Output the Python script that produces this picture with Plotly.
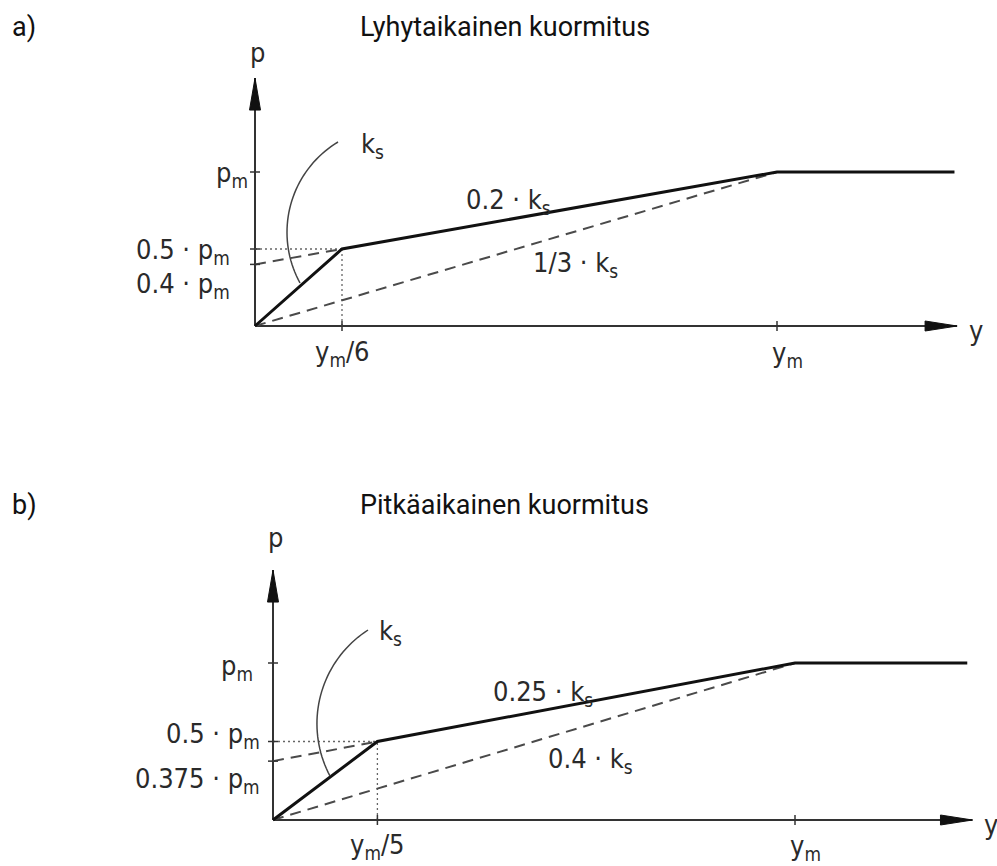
import math
import plotly.graph_objects as go

# ---------------- data (x in units of y_m, y in units of p_m) ----------------
# Panel a) Lyhytaikainen kuormitus
a_curve_x = [0, 1/6, 1, 1.34]
a_curve_y = [0, 0.5, 1, 1]
a_ext_x = [0, 1/6]           # dashed extension of 0.2*k_s branch
a_ext_y = [0.4, 0.5]
a_sec_x = [0, 1]             # dashed secant 1/3*k_s
a_sec_y = [0, 1]
a_yticks = [1, 0.5, 0.4]
a_xticks = [1/6, 1]
a_ytick_text = ["p<sub>m</sub>", "0.5 · p<sub>m</sub>", "0.4 · p<sub>m</sub>"]
a_xtick_text = ["y<sub>m</sub>/6", "y<sub>m</sub>"]
a_slope_text = ["0.2 · k<sub>s</sub>", "1/3 · k<sub>s</sub>"]

# Panel b) Pitkäaikainen kuormitus
b_curve_x = [0, 1/5, 1, 1.33]
b_curve_y = [0, 0.5, 1, 1]
b_ext_x = [0, 1/5]
b_ext_y = [0.375, 0.5]
b_sec_x = [0, 1]
b_sec_y = [0, 1]
b_yticks = [1, 0.5, 0.375]
b_xticks = [1/5, 1]
b_ytick_text = ["p<sub>m</sub>", "0.5 · p<sub>m</sub>", "0.375 · p<sub>m</sub>"]
b_xtick_text = ["y<sub>m</sub>/5", "y<sub>m</sub>"]
b_slope_text = ["0.25 · k<sub>s</sub>", "0.4 · k<sub>s</sub>"]

titles = ["Lyhytaikainen kuormitus", "Pitkäaikainen kuormitus"]
panel_tags = ["a)", "b)"]

# ---------------- styling ----------------
AX = "#333333"
LBL_FONT = dict(family="Liberation Sans Narrow, DejaVu Sans Condensed, Roboto, sans-serif",
                size=27, color="#2a2a2a")
TITLE_FONT = dict(family="Roboto, Noto Sans, sans-serif", size=27, color="#111111")

W, H = 997, 866
fig = go.Figure()
shapes = []
annotations = []


def circle_arc(p1, p2, p3, n=40):
    """Points of the circular arc through three pixel points (p1 -> p2 -> p3)."""
    (x1, y1), (x2, y2), (x3, y3) = p1, p2, p3
    dd = 2 * (x1 * (y2 - y3) + x2 * (y3 - y1) + x3 * (y1 - y2))
    ux = ((x1**2 + y1**2) * (y2 - y3) + (x2**2 + y2**2) * (y3 - y1) + (x3**2 + y3**2) * (y1 - y2)) / dd
    uy = ((x1**2 + y1**2) * (x3 - x2) + (x2**2 + y2**2) * (x1 - x3) + (x3**2 + y3**2) * (x2 - x1)) / dd
    r = math.hypot(x1 - ux, y1 - uy)
    a1 = math.atan2(y1 - uy, x1 - ux)
    a2 = math.atan2(y2 - uy, x2 - ux)
    a3 = math.atan2(y3 - uy, x3 - ux)

    def norm(a):
        return a % (2 * math.pi)
    # choose direction so that a2 lies between a1 and a3
    s13 = norm(a3 - a1)
    s12 = norm(a2 - a1)
    if s12 <= s13:
        sweep = s13
    else:
        sweep = s13 - 2 * math.pi
    return [(ux + r * math.cos(a1 + sweep * i / n), uy + r * math.sin(a1 + sweep * i / n))
            for i in range(n + 1)]


def add_panel(xr, yr, origin, scale, curve_x, curve_y, ext_x, ext_y, sec_x, sec_y,
              yticks, xticks, ytick_text, xtick_text, slope_text,
              x_end, y_end, cfg):
    ox, oy = origin
    sx, sy = scale

    def d(px, py):  # pixel position (for labels / leader) -> data coords of this panel
        return (px - ox) / sx, (oy - py) / sy

    line_kw = dict(xaxis=xr, yaxis=yr, mode="lines", hoverinfo="skip", showlegend=False)
    # axes lines
    fig.add_trace(go.Scatter(x=[0, x_end], y=[0, 0], line=dict(color=AX, width=2), **line_kw))
    fig.add_trace(go.Scatter(x=[0, 0], y=[0, y_end], line=dict(color=AX, width=2), **line_kw))
    # dotted guides at the break point
    bx, by = curve_x[1], curve_y[1]
    dot = dict(color="#666666", width=1.3, dash="2px,3px")
    fig.add_trace(go.Scatter(x=[0, bx], y=[by, by], line=dot, **line_kw))
    fig.add_trace(go.Scatter(x=[bx, bx], y=[0, by], line=dot, **line_kw))
    # dashed lines
    for dx, dy in ((ext_x, ext_y), (sec_x, sec_y)):
        fig.add_trace(go.Scatter(x=dx, y=dy, line=dict(color="#4a4a4a", width=2, dash="11px,7px"),
                                 **line_kw))
    # main curve
    fig.add_trace(go.Scatter(x=curve_x, y=curve_y, line=dict(color="#111111", width=3), **line_kw))

    # ticks
    for v in yticks:
        shapes.append(dict(type="line", xref=xr, yref=yr, xsizemode="pixel", xanchor=0,
                           x0=-5, x1=5, y0=v, y1=v, line=dict(color=AX, width=1.5)))
    for v in xticks:
        shapes.append(dict(type="line", xref=xr, yref=yr, ysizemode="pixel", yanchor=0,
                           y0=-5, y1=5, x0=v, x1=v, line=dict(color=AX, width=1.5)))
    # arrowheads
    shapes.append(dict(type="path", xref=xr, yref=yr, xsizemode="pixel", ysizemode="pixel",
                       xanchor=0, yanchor=y_end, path="M0,0 L-5.5,-32 L5.5,-32 Z",
                       fillcolor="#111111", line=dict(color="#111111", width=1)))
    shapes.append(dict(type="path", xref=xr, yref=yr, xsizemode="pixel", ysizemode="pixel",
                       xanchor=x_end, yanchor=0, path="M0,0 L-32,5 L-32,-5 Z",
                       fillcolor="#111111", line=dict(color="#111111", width=1)))
    # k_s leader arc
    pts = [d(*p) for p in circle_arc(*cfg["arc_px"])]
    path = "M" + " L".join("{:.5f},{:.5f}".format(px, py) for px, py in pts)
    shapes.append(dict(type="path", xref=xr, yref=yr, path=path,
                       line=dict(color="#444444", width=1.5)))

    def ann(text, x, y, xanchor="center", xshift=0, yshift=0):
        annotations.append(dict(text=text, x=x, y=y, xref=xr, yref=yr, showarrow=False,
                                xanchor=xanchor, yanchor="middle", xshift=xshift,
                                yshift=yshift, font=LBL_FONT))

    for v, t, (xs, ys) in zip(yticks, ytick_text, cfg["ylab_shift"]):
        ann(t, 0, v, "right", xs, ys)
    for v, t, (xs, ys) in zip(xticks, xtick_text, cfg["xlab_shift"]):
        ann(t, v, 0, "center", xs, ys)
    ann("p", 0, y_end, "center", cfg["p_shift"][0], cfg["p_shift"][1])
    ann("y", x_end, 0, "left", cfg["y_shift"][0], cfg["y_shift"][1])
    for t, (lx, ly) in zip(slope_text, cfg["slope_px"]):
        ann(t, *d(lx, ly))
    ann("k<sub>s</sub>", *d(*cfg["ks_px"]))


cfg_a = dict(
    arc_px=[(338, 142), (287, 233), (300, 283)],
    ylab_shift=[(-5, -2), (-23, -2), (-23, -21)],
    xlab_shift=[(0, -27), (10, -28)],
    p_shift=(2, 26),
    y_shift=(10, -4),
    slope_px=[(508, 201), (575, 264)],
    ks_px=(372, 145),
)
cfg_b = dict(
    arc_px=[(368, 630), (317, 727), (330, 776)],
    ylab_shift=[(-18, -4), (-11, 6), (-11, -19)],
    xlab_shift=[(0, -26), (10, -27)],
    p_shift=(2, 33),
    y_shift=(10, -4),
    slope_px=[(543, 693), (590, 760)],
    ks_px=(390, 632),
)

A_ORIGIN, A_SCALE = (255, 326), (522, 154)
B_ORIGIN, B_SCALE = (273, 820), (522, 157)

add_panel("x", "y", A_ORIGIN, A_SCALE, a_curve_x, a_curve_y, a_ext_x, a_ext_y, a_sec_x, a_sec_y,
          a_yticks, a_xticks, a_ytick_text, a_xtick_text, a_slope_text, 1.345, 1.61, cfg_a)
add_panel("x2", "y2", B_ORIGIN, B_SCALE, b_curve_x, b_curve_y, b_ext_x, b_ext_y, b_sec_x, b_sec_y,
          b_yticks, b_xticks, b_ytick_text, b_xtick_text, b_slope_text, 1.34, 1.592, cfg_b)

# panel titles (paper coords)
for tag, title, ypx in zip(panel_tags, titles, [27, 505]):
    yp = 1 - ypx / H
    annotations.append(dict(text=tag, x=10 / W, y=yp, xref="paper", yref="paper",
                            showarrow=False, xanchor="left", yanchor="middle", font=TITLE_FONT))
    annotations.append(dict(text=title, x=505 / W, y=yp, xref="paper", yref="paper",
                            showarrow=False, xanchor="center", yanchor="middle", font=TITLE_FONT))

ax_common = dict(visible=False, showgrid=False, zeroline=False, fixedrange=True)
half = H / 2
fig.update_layout(
    width=W, height=H, autosize=False,
    margin=dict(l=0, r=0, t=0, b=0, pad=0),
    paper_bgcolor="white", plot_bgcolor="white",
    xaxis=dict(domain=[0, 1], range=[-A_ORIGIN[0] / A_SCALE[0], (W - A_ORIGIN[0]) / A_SCALE[0]],
               anchor="y", **ax_common),
    yaxis=dict(domain=[0.5, 1], range=[-(half - A_ORIGIN[1]) / A_SCALE[1], A_ORIGIN[1] / A_SCALE[1]],
               anchor="x", **ax_common),
    xaxis2=dict(domain=[0, 1], range=[-B_ORIGIN[0] / B_SCALE[0], (W - B_ORIGIN[0]) / B_SCALE[0]],
                anchor="y2", **ax_common),
    yaxis2=dict(domain=[0, 0.5], range=[-(H - B_ORIGIN[1]) / B_SCALE[1], (B_ORIGIN[1] - half) / B_SCALE[1]],
                anchor="x2", **ax_common),
    shapes=shapes,
    annotations=annotations,
    showlegend=False,
)

fig.write_html("out.html", config={"displayModeBar": False},
               post_script="document.body.style.margin='0';document.body.style.overflow='hidden';")
